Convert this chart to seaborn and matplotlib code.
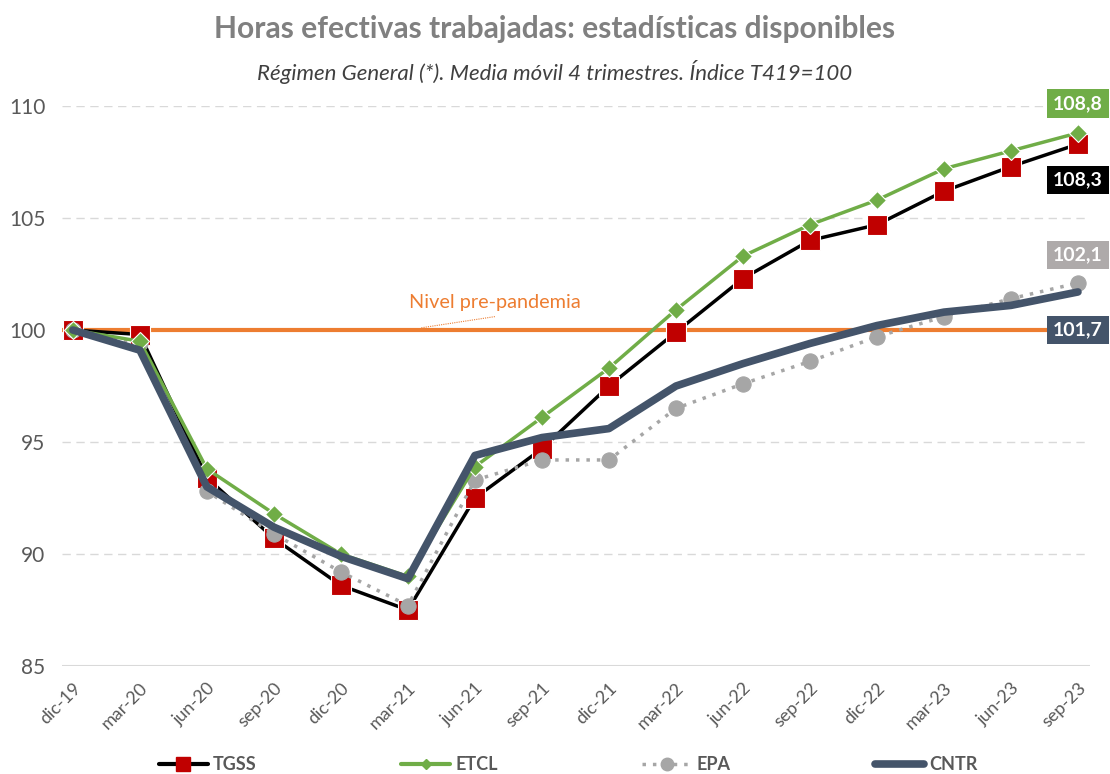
import pandas as pd
import matplotlib.pyplot as plt
import seaborn as sns
from matplotlib.lines import Line2D

# quarters (moving average 4Q, index T419=100)
quarters = ["dic-19", "mar-20", "jun-20", "sep-20", "dic-20", "mar-21", "jun-21", "sep-21",
            "dic-21", "mar-22", "jun-22", "sep-22", "dic-22", "mar-23", "jun-23", "sep-23"]
tgss = [100.0, 99.8, 93.4, 90.7, 88.6, 87.5, 92.5, 94.7, 97.5, 99.9, 102.3, 104.0, 104.7, 106.2, 107.3, 108.3]
etcl = [100.0, 99.5, 93.8, 91.8, 90.0, 89.0, 93.9, 96.1, 98.3, 100.9, 103.3, 104.7, 105.8, 107.2, 108.0, 108.8]
epa = [100.0, 99.4, 92.8, 90.9, 89.2, 87.7, 93.3, 94.2, 94.2, 96.5, 97.6, 98.6, 99.7, 100.6, 101.4, 102.1]
cntr = [100.0, 99.1, 93.0, 91.2, 89.9, 88.9, 94.4, 95.2, 95.6, 97.5, 98.5, 99.4, 100.2, 100.8, 101.1, 101.7]
pre_pandemia = 100

GREEN = "#70AD47"
RED = "#C00000"
GREY = "#A6A6A6"
NAVY = "#44546A"
ORANGE = "#ED7D31"
TXT = "#595959"

sns.set_style("white")
plt.rcParams['font.family'] = ['Lato', 'DejaVu Sans']

df = pd.DataFrame({"q": quarters, "TGSS": tgss, "ETCL": etcl, "EPA": epa, "CNTR": cntr})
df["x"] = range(len(df))

fig = plt.figure(figsize=(11.1, 7.74), dpi=100)
ax = fig.add_axes([0.056, 0.1395, 0.926, 0.7235])

# grid
for v in [90, 95, 105, 110]:
    ax.axhline(v, color="#D9D9D9", lw=1, ls=(0, (6, 4)), zorder=0)
ax.axhline(85, color="#D9D9D9", lw=1.5, zorder=0)
ax.axhline(pre_pandemia, color=ORANGE, lw=3, zorder=1)

sns.lineplot(data=df, x="x", y="TGSS", ax=ax, color="black", lw=2.5, marker="s",
             markersize=15, markerfacecolor=RED, markeredgecolor="white", markeredgewidth=0.8, zorder=2)
sns.lineplot(data=df, x="x", y="EPA", ax=ax, color=GREY, lw=2.5, ls=(0, (1, 2)), marker="o",
             markersize=11, markerfacecolor=GREY, markeredgecolor=GREY, zorder=3)
sns.lineplot(data=df, x="x", y="ETCL", ax=ax, color=GREEN, lw=2.5, marker="D",
             markersize=9, markerfacecolor=GREEN, markeredgecolor="white", markeredgewidth=0.8, zorder=4)
sns.lineplot(data=df, x="x", y="CNTR", ax=ax, color=NAVY, lw=5.5, zorder=5,
             solid_capstyle="round", solid_joinstyle="round")

ax.set_xlim(-0.16, 15.18)
ax.set_ylim(85, 110)
ax.set_xticks(df["x"])
ax.set_xticklabels(quarters, rotation=45, ha="right", va="top", rotation_mode="anchor",
                   fontsize=13, color=TXT)
ax.set_yticks([85, 90, 95, 100, 105, 110])
ax.set_yticklabels([85, 90, 95, 100, 105, 110], fontsize=15, color=TXT)
ax.tick_params(axis="both", length=0)
ax.tick_params(axis="x", pad=10)
ax.tick_params(axis="y", pad=12)
ax.set_xlabel("")
ax.set_ylabel("")
sns.despine(ax=ax, left=True, bottom=True)

# end labels
def lab(v, y, col):
    ax.text(15, y, f"{v:.1f}".replace(".", ","), ha="center", va="center", fontsize=14,
            fontweight="bold", color="white", zorder=10, clip_on=False,
            bbox=dict(boxstyle="square,pad=0.3", fc=col, ec="none"))

lab(etcl[-1], 110.1, GREEN)
lab(tgss[-1], 106.7, "black")
lab(epa[-1], 103.35, "#AEAAAA")
lab(cntr[-1], 100.0, NAVY)

# pre-pandemic note
ax.text(6.3, 101.25, "Nivel pre-pandemia", color=ORANGE, fontsize=14.3, ha="center", va="center")
ax.plot([5.2, 6.3], [100.1, 100.6], color=ORANGE, lw=0.8, ls=(0, (1, 1)))

fig.text(0.5, 0.963, "Horas efectivas trabajadas: estadísticas disponibles", ha="center", va="center",
         fontsize=21.6, fontweight="bold", color="#808080")
fig.text(0.5, 0.907, "Régimen General (*). Media móvil 4 trimestres. Índice T419=100", ha="center",
         va="center", fontsize=16, style="italic", color="#404040")

handles = [
    Line2D([], [], color="black", lw=3, marker="s", markersize=10, markerfacecolor=RED, markeredgecolor=RED),
    Line2D([], [], color=GREEN, lw=3, marker="D", markersize=5, markerfacecolor=GREEN, markeredgecolor=GREEN),
    Line2D([], [], color=GREY, lw=2.5, ls=(0, (1, 2)), marker="o", markersize=9, markerfacecolor=GREY,
           markeredgecolor=GREY),
    Line2D([], [], color=NAVY, lw=5.5),
]
leg = fig.legend(handles, ["TGSS", "ETCL", "EPA", "CNTR"], loc="center", bbox_to_anchor=(0.512, 0.012),
                 ncol=4, frameon=False, handlelength=2.7, columnspacing=8.0, handletextpad=0.3,
                 prop={"size": 13, "weight": "bold"})
for t in leg.get_texts():
    t.set_color(TXT)

fig.savefig("out.png", dpi=100)
